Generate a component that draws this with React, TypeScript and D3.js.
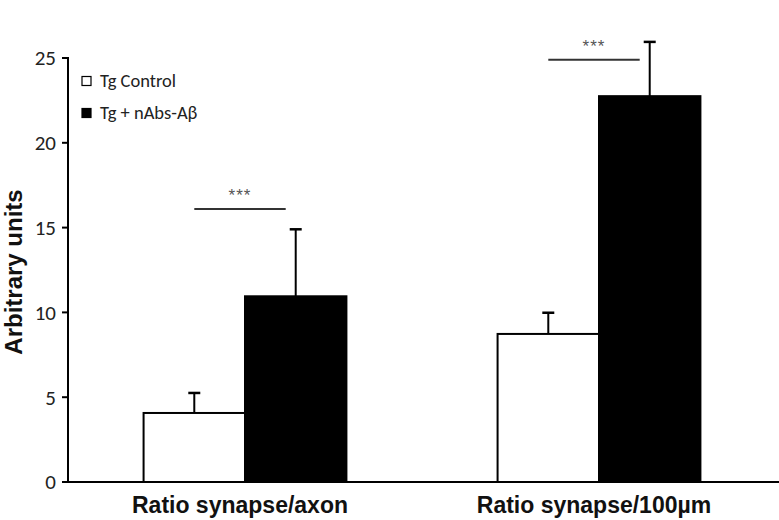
import React from 'react';
import * as d3 from 'd3';

// data
const categories = ['Ratio synapse/axon', 'Ratio synapse/100µm'];
const seriesNames = ['Tg Control', 'Tg + nAbs-Aβ'];
const seriesColors = ['#ffffff', '#000000'];
const meanControl = [4.07, 8.73];
const meanTreated = [10.95, 22.75];
const errControl = [1.18, 1.25];
const errTreated = [3.95, 3.2];
const yTicks = [0, 5, 10, 15, 20, 25];
const sigLabels = ['***', '***'];
const sigLevels = [16.1, 24.9];

const width = 779;
const height = 520;
const margin = { top: 58, right: 3, bottom: 38, left: 68 };

const App = () => {
  const x0 = d3.scaleBand<string>()
    .domain(categories)
    .range([margin.left, width - margin.right])
    .paddingInner(0.427)
    .paddingOuter(0.2135);

  const x1 = d3.scaleBand<string>()
    .domain(seriesNames)
    .range([0, x0.bandwidth()])
    .padding(0);

  const y = d3.scaleLinear()
    .domain([0, 25])
    .range([height - margin.bottom, margin.top]);

  const means = [meanControl, meanTreated];
  const errs = [errControl, errTreated];
  const fontTick = 'Calibri, Carlito, "Open Sans", sans-serif';
  const fontBold = 'Arial, "Liberation Sans", sans-serif';

  return (
    <svg width={width} height={height} style={{ position: 'absolute', left: 0, top: 0, background: '#fff' }}>
      {/* bars */}
      {categories.map((cat, ci) => (
        <g key={cat} transform={`translate(${x0(cat)},0)`}>
          {seriesNames.map((s, si) => {
            const v = means[si][ci];
            const e = errs[si][ci];
            const bx = x1(s) as number;
            const cx = bx + x1.bandwidth() / 2;
            return (
              <g key={s}>
                <line x1={cx} x2={cx} y1={y(v)} y2={y(v + e)} stroke="#000" strokeWidth={2} />
                <line x1={cx - 6} x2={cx + 6} y1={y(v + e)} y2={y(v + e)} stroke="#000" strokeWidth={2.5} />
                <rect
                  x={bx}
                  y={y(v)}
                  width={x1.bandwidth()}
                  height={y(0) - y(v)}
                  fill={seriesColors[si]}
                  stroke="#000"
                  strokeWidth={2}
                />
              </g>
            );
          })}
        </g>
      ))}

      {/* significance bars */}
      {categories.map((cat, ci) => {
        const a = (x0(cat) as number) + (x1(seriesNames[0]) as number) + x1.bandwidth() / 2;
        const b = (x0(cat) as number) + (x1(seriesNames[1]) as number) + x1.bandwidth() / 2 - 10;
        const yy = y(sigLevels[ci]);
        return (
          <g key={'sig' + cat}>
            <line x1={a} x2={b} y1={yy} y2={yy} stroke="#333" strokeWidth={2} />
            <text x={(a + b) / 2} y={yy - 8} textAnchor="middle" fontSize={17} fill="#555"
              fontFamily={fontBold} letterSpacing={1}>{sigLabels[ci]}</text>
          </g>
        );
      })}

      {/* y axis */}
      <line x1={margin.left} x2={margin.left} y1={y(25) - 1} y2={y(0)} stroke="#000" strokeWidth={2} />
      {yTicks.map(t => (
        <g key={t} transform={`translate(${margin.left},${y(t)})`}>
          <line x1={-6} x2={0} stroke="#000" strokeWidth={2} />
          <text x={-12} dy="0.35em" textAnchor="end" fontSize={21} fill="#222" fontFamily={fontTick}>{t}</text>
        </g>
      ))}
      {/* x axis */}
      <line x1={margin.left - 6} x2={width} y1={y(0)} y2={y(0)} stroke="#000" strokeWidth={2} />

      {categories.map(cat => (
        <text key={'xl' + cat} x={(x0(cat) as number) + x0.bandwidth() / 2 - 5} y={513} textAnchor="middle"
          fontSize={23} fontWeight="bold" fontFamily={fontBold} fill="#111">{cat}</text>
      ))}

      <text transform={`translate(22,272) rotate(-90)`} textAnchor="middle"
        fontSize={24} fontWeight="bold" fontFamily={fontBold} fill="#111">Arbitrary units</text>

      {/* legend */}
      {seriesNames.map((s, i) => (
        <g key={'lg' + s} transform={`translate(82,${81 + i * 32})`}>
          <rect x={0} y={-4.5} width={9} height={9} fill={seriesColors[i]} stroke="#000" strokeWidth={1.2} />
          <text x={18} dy="0.35em" fontSize={18.5} fill="#222" fontFamily={fontTick}>{s}</text>
        </g>
      ))}
    </svg>
  );
};

export default App;
